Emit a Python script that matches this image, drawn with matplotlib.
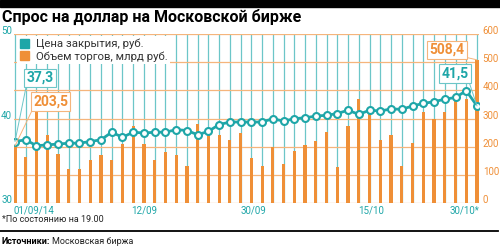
import matplotlib
matplotlib.use("Agg")
import matplotlib.pyplot as plt
from matplotlib.patches import Patch, Rectangle
from matplotlib.lines import Line2D

plt.rcParams['font.family'] = ['Roboto', 'DejaVu Sans']

# closing price, rub (left axis) and trading volume, bn rub (right axis), 44 trading days
price = [37.3, 37.5, 36.8, 36.9, 37.0, 37.1, 37.1, 37.3, 37.5, 38.4,
         37.8, 38.4, 38.3, 38.4, 38.4, 38.7, 38.6, 38.1, 38.5, 39.3,
         39.6, 39.6, 39.6, 39.6, 40.0, 39.7, 40.0, 40.1, 40.3, 40.4,
         40.6, 41.0, 40.5, 41.0, 40.9, 41.15, 41.1, 41.5, 41.8, 42.0,
         42.3, 42.5, 43.3, 41.5]
volume = [203.5, 164, 326, 241, 174, 121, 123, 152, 172, 152,
          210, 275, 211, 154, 183, 170, 133, 282, 246, 243,
          225, 249, 160, 132, 199, 140, 185, 205, 221, 253,
          127, 274, 368, 320, 225, 243, 133, 214, 324, 300,
          324, 361, 368, 508.4]
tick_pos = [-0.1, 12, 22.15, 33.1, 43.2]
tick_labels = ['01/09/14', '12/09', '30/09', '15/10', '30/10*']
tick_ha = ['left', 'center', 'center', 'center', 'right']

teal = '#1ea6a8'
teal_light = '#6cc6c8'
orange = '#ef8f37'
orange_light = '#f5b57c'

idx = list(range(len(price)))

fig = plt.figure(figsize=(5, 2.48), dpi=100)
ax = fig.add_axes([13.5 / 500, 44.7 / 248, 465 / 500, 169.3 / 248])
ax2 = ax.twinx()

# bars on the primary axes (right scale)
ax.bar(idx, volume, width=0.3, color=orange, zorder=2)
ax.set_ylim(0, 600)
ax.set_xlim(-0.14, 43.14)
ax.yaxis.tick_right()
ax.set_yticks(range(0, 601, 100))
ax.set_xticks(idx)
ax.set_xticklabels([])
ax.grid(axis='y', color=orange_light, lw=0.9, zorder=0)
ax.grid(axis='x', color=teal_light, lw=0.9, zorder=0)
ax.set_axisbelow(True)
ax.tick_params(length=0, pad=3, labelsize=7, labelcolor=orange)
for lb in ax.get_yticklabels():
    lb.set_va('baseline')
for s in ax.spines.values():
    s.set_visible(False)

# price line on the twin axes (left scale)
ax2.yaxis.tick_left()
ax2.set_ylim(30, 50)
ax2.set_yticks([30, 40, 50])
ax2.tick_params(length=0, pad=1, labelsize=7, labelcolor=teal)
for lb in ax2.get_yticklabels():
    lb.set_va('baseline')
for s in ax2.spines.values():
    s.set_visible(False)
ax2.plot(idx, price, color=teal, lw=2, marker='o', ms=5, mfc='white',
         mec=teal, mew=1.5, zorder=3)

for p, l, h in zip(tick_pos, tick_labels, tick_ha):
    ax.text(p, -0.045, l, transform=ax.get_xaxis_transform(), ha=h, va='center',
            fontsize=7, color=teal, clip_on=False)

leg = ax2.legend(handles=[Patch(color=teal), Patch(color=orange)],
                 labels=['Цена закрытия, руб.', 'Объем торгов, млрд руб.'],
                 loc='upper left', bbox_to_anchor=(17 / 500, 212 / 248),
                 bbox_transform=fig.transFigure, frameon=True, facecolor='white',
                 edgecolor='none', framealpha=1, fancybox=False, fontsize=8.2,
                 handlelength=0.8, handleheight=0.8, handletextpad=0.6,
                 labelspacing=0.15, borderpad=0.25, borderaxespad=0)
for t in leg.get_texts():
    t.set_color('#333333')

def note(text, xy, xyc, center, col, col_light, rel):
    ax2.annotate(text, xy=xy, xycoords=xyc, xytext=center, textcoords='figure pixels',
                 ha='center', va='center', fontsize=10, fontweight='bold', color=col,
                 bbox=dict(boxstyle='square,pad=0.15', fc='white', ec=col_light, lw=0.8),
                 arrowprops=dict(arrowstyle='-', color=col_light, lw=0.7, relpos=rel,
                                 shrinkA=0, shrinkB=0), zorder=5)

note('37,3', (0, price[0]), ax2.transData, (40, 248 - 78), teal, teal_light, (0, 0))
note('203,5', (0, volume[0]), ax.transData, (50.5, 248 - 101.5), orange, orange_light, (0, 0))
note('508,4', (43, volume[-1]), ax.transData, (447, 248 - 50), orange, orange_light, (1, 0))
note('41,5', (43, price[-1]), ax2.transData, (455, 248 - 73.5), teal, teal_light, (1, 0))

fig.patches.append(Rectangle((0, 241 / 248), 1, 7 / 248, transform=fig.transFigure,
                             color='black'))
fig.text(0.004, (248 - 17) / 248, 'Спрос на доллар на Московской бирже',
         fontsize=11.5, fontweight='bold', va='center', ha='left')
fig.text(0.004, (248 - 220) / 248, '*По состоянию на 19.00', fontsize=6.5,
         va='center', ha='left', color='#222222')
fig.lines.append(Line2D([0, 0.996], [17.5 / 248, 17.5 / 248], transform=fig.transFigure,
                        color='black', lw=1.3))
src = fig.text(0.004, (248 - 242) / 248, 'Источники:', fontsize=6.5, fontweight='bold',
               va='center', ha='left')
r = fig.canvas.get_renderer()
bb = src.get_window_extent(r)
fig.text(bb.x1 / 500 + 0.004, (248 - 242) / 248, 'Московская биржа', fontsize=6.5,
         va='center', ha='left', color='#222222')

fig.savefig('out.png', dpi=100)
